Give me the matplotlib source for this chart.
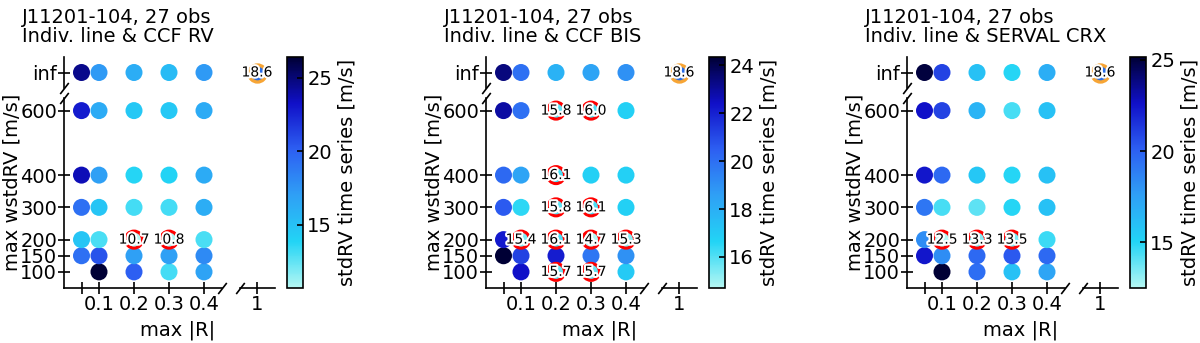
import numpy as np
import matplotlib
matplotlib.use("Agg")
import matplotlib.pyplot as plt
from matplotlib.colors import LinearSegmentedColormap, Normalize
import matplotlib.patheffects as pe

plt.rcParams['font.family'] = ['DejaVu Sans']

# ---------------- data ----------------
star = "J11201-104, 27 obs"
methods = ["Indiv. line & CCF RV", "Indiv. line & CCF BIS", "Indiv. line & SERVAL CRX"]
max_R = [0.05, 0.1, 0.2, 0.3, 0.4]
max_R_ticks = [0.1, 0.2, 0.3, 0.4]
max_wstd = [100, 150, 200, 300, 400, 600]
ref_value = 18.6
nan = np.nan

# rows: 100, 150, 200, 300, 400, 600 ; columns: max_R
std_rv = [[nan, 26.4, 20.1, 13.1, 16.8],
          [19.3, 20.6, 17.0, 17.0, 18.0],
          [14.8, 13.0, 10.7, 10.8, 13.0],
          [19.3, 14.8, 13.1, 13.1, 16.2],
          [23.6, 17.0, 13.8, 13.9, 16.3],
          [22.8, 16.3, 14.6, 14.6, 16.3]]
std_rv_inf = [24.5, 17.3, 16.2, 15.4, 17.3]

std_bis = [[nan, 22.4, 15.7, 15.7, 17.0],
           [24.35, 21.2, 22.1, 19.8, 19.0],
           [22.2, 15.4, 16.1, 14.7, 15.3],
           [20.6, 16.5, 15.8, 16.1, 16.8],
           [20.2, 18.4, 16.1, 16.8, 16.8],
           [22.9, 20.0, 15.8, 16.0, 16.8]]
std_bis_inf = [23.4, 20.0, 17.9, 18.4, 19.0]

std_crx = [[nan, 25.16, 19.5, 16.0, 17.3],
           [22.4, 18.3, 19.7, 20.3, 19.7],
           [18.3, 12.5, 13.3, 13.5, 14.6],
           [19.2, 14.4, 14.0, 15.0, 16.0],
           [22.4, 19.7, 15.7, 15.0, 16.0],
           [22.6, 21.0, 16.6, 14.4, 16.0]]
std_crx_inf = [25.0, 21.0, 16.0, 15.0, 16.9]

panels = [(methods[0], std_rv, std_rv_inf, [15, 20, 25]),
          (methods[1], std_bis, std_bis_inf, [16, 18, 20, 22, 24]),
          (methods[2], std_crx, std_crx_inf, [15, 20, 25])]

cmap = LinearSegmentedColormap.from_list(
    "cyanblue",
    [(0.0, '#b4f7f3'), (0.2, '#22d4f5'), (0.4, '#2fa0f5'),
     (0.6, '#2d5ff2'), (0.8, '#1010c8'), (1.0, '#000035')])

W, H = 1200, 343
fig = plt.figure(figsize=(W / 100, H / 100), dpi=100)


def box(x0, y_top, w, h):
    return [x0 / W, 1 - (y_top + h) / H, w / W, h / H]


FS = 14
stroke = [pe.withStroke(linewidth=3, foreground='white')]
lefts = [64, 486, 907]

for (method, grid, inf_row, cticks), L in zip(panels, lefts):
    grid = np.array(grid, dtype=float)
    inf_row = np.array(inf_row, dtype=float)
    allv = np.concatenate([grid.ravel(), inf_row])
    vmin, vmax = np.nanmin(allv), np.nanmax(allv)
    norm = Normalize(vmin, vmax)
    thr = 1.1 * vmin

    ax_main = fig.add_axes(box(L, 97.7, 157.5, 190.3))
    ax_top = fig.add_axes(box(L, 56.7, 157.5, 31.6))
    ax_rb = fig.add_axes(box(L + 175.5, 97.7, 35, 190.3))
    ax_rt = fig.add_axes(box(L + 175.5, 56.7, 35, 31.6))
    cax = fig.add_axes(box(L + 223, 57, 16, 231))

    for a in (ax_main, ax_top, ax_rb, ax_rt):
        a.patch.set_alpha(0)
        for s in a.spines.values():
            s.set_linewidth(1.2)

    X, Y = np.meshgrid(max_R, max_wstd)
    m = ~np.isnan(grid)
    hl = m & (grid <= thr)
    ax_main.scatter(X[m], Y[m], c=grid[m], cmap=cmap, norm=norm, s=150,
                    linewidths=0, zorder=2, clip_on=False)
    ax_main.scatter(X[hl], Y[hl], c=grid[hl], cmap=cmap, norm=norm, s=150,
                    edgecolors='red', linewidths=2.2, zorder=3, clip_on=False)
    for xx, yy, vv in zip(X[hl], Y[hl], grid[hl]):
        ax_main.text(xx, yy, f"{vv:.1f}", ha='center', va='center', fontsize=10,
                     zorder=5, path_effects=stroke)

    ones = np.ones(len(max_R))
    hli = inf_row <= thr
    ax_top.scatter(max_R, ones, c=inf_row, cmap=cmap, norm=norm, s=150,
                   linewidths=0, zorder=2, clip_on=False)
    if hli.any():
        ax_top.scatter(np.array(max_R)[hli], ones[hli], c=inf_row[hli], cmap=cmap,
                       norm=norm, s=150, edgecolors='red', linewidths=2.2, zorder=3)
        for xx, vv in zip(np.array(max_R)[hli], inf_row[hli]):
            ax_top.text(xx, 1, f"{vv:.1f}", ha='center', va='center', fontsize=10,
                        zorder=5, path_effects=stroke)

    ax_rt.scatter([1], [1], color='#2a6ee8', s=150, edgecolors='#f7a535',
                  linewidths=2.4, zorder=3, clip_on=False)
    ax_rt.text(1, 1, f"{ref_value:.1f}", ha='center', va='center', fontsize=10,
               zorder=5, path_effects=stroke)

    # limits
    ax_main.set_xlim(0, 0.45)
    ax_main.set_ylim(50, 640)
    ax_top.set_xlim(0, 0.45)
    ax_top.set_ylim(0, 2)
    ax_rb.set_xlim(0.95, 1.05)
    ax_rb.set_ylim(50, 640)
    ax_rt.set_xlim(0.95, 1.05)
    ax_rt.set_ylim(0, 2)

    # spines
    ax_main.spines[['top', 'right']].set_visible(False)
    ax_top.spines[['top', 'right', 'bottom']].set_visible(False)
    ax_rb.spines[['top', 'right', 'left']].set_visible(False)
    ax_rt.axis('off')

    tkw = dict(direction='inout', length=8, width=1.2, labelsize=FS, pad=1)
    ax_main.set_xticks(max_R)
    ax_main.set_xticklabels([("%g" % v) if v in max_R_ticks else "" for v in max_R])
    ax_main.set_yticks(max_wstd)
    ax_main.set_yticklabels([str(v) for v in max_wstd])
    ax_main.tick_params(**tkw)
    ax_top.set_xticks([])
    ax_top.set_yticks([1])
    ax_top.set_yticklabels(['inf'])
    ax_top.tick_params(**tkw)
    ax_rb.set_yticks([])
    ax_rb.set_xticks([1])
    ax_rb.set_xticklabels(['1'])
    ax_rb.tick_params(**tkw)

    # break marks
    mk = dict(marker=[(-1, -1.3), (1, 1.3)], markersize=8, linestyle='none',
              color='k', mec='k', mew=1.2, clip_on=False)
    ax_main.plot([0], [1], transform=ax_main.transAxes, **mk)
    ax_top.plot([0], [0], transform=ax_top.transAxes, **mk)
    ax_main.plot([1], [0], transform=ax_main.transAxes, **mk)
    ax_rb.plot([0], [0], transform=ax_rb.transAxes, **mk)

    # colorbar
    sm = plt.cm.ScalarMappable(norm=norm, cmap=cmap)
    cb = fig.colorbar(sm, cax=cax)
    cb.set_ticks(cticks)
    cb.ax.tick_params(direction='in', length=4, width=1.2, labelsize=FS, pad=3)
    cb.outline.set_linewidth(1.2)
    cb.set_label("stdRV time series [m/s]", fontsize=FS, labelpad=4)

    # labels and titles
    fig.text((L - 42) / W, 1 - 8 / H, star + "\n" + method, ha='left', va='top',
             fontsize=FS, linespacing=1.0)
    fig.text((L + 114) / W, 1 - 330 / H, "max |R|", ha='center', va='center',
             fontsize=FS)
    fig.text((L - 52) / W, 1 - 182 / H, "max wstdRV [m/s]", ha='center',
             va='center', rotation=90, fontsize=FS)

fig.savefig("out.png", dpi=100)
